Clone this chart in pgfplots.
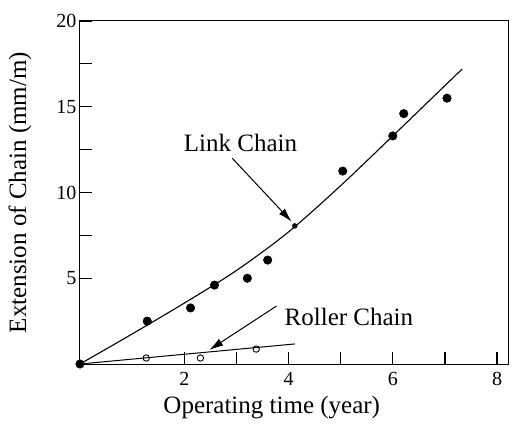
\documentclass[border=0pt]{standalone}
\usepackage{fontspec}
\setmainfont{Liberation Serif}
\usepackage{pgfplots}
\pgfplotsset{compat=1.18}
\usetikzlibrary{arrows.meta}
\begin{document}
\begin{tikzpicture}
\useasboundingbox (-80bp,-74bp) rectangle (439bp,364bp);
\begin{axis}[
 scale only axis, width=428bp, height=343bp,
 xmin=0, xmax=8.21, ymin=0, ymax=20,
 xtick={2,4,6,8}, ytick={5,10,15,20},
 minor x tick num=1, minor y tick num=1,
 tick align=inside, xtick pos=bottom, ytick pos=left,
 major tick length=12bp, minor tick length=12bp,
 axis line style={line width=1bp},
 tick style={black, line width=1.2bp},
 tick label style={font=\fontsize{20bp}{24bp}\selectfont},
 xticklabel style={yshift=-5bp},
 /pgf/number format/assume math mode=true,
 label style={font=\fontsize{25bp}{30bp}\selectfont},
 xlabel={Operating time (year)}, ylabel={Extension of Chain (mm/m)},
 xlabel style={at={(axis description cs:0.448,-0.128)}, anchor=center},
 ylabel style={at={(axis description cs:-0.140,0.5)}, anchor=center},
 clip=false,
]
% Link chain fitted curve
\addplot[smooth, tension=0.5, line width=1.1bp, black] coordinates {
 (0,0) (1,1.75) (2,3.55) (3,5.45) (4,7.7) (5,10.4) (6,13.3) (7.33,17.2)};
% Link chain measurements
\addplot[only marks, mark=*, mark size=4.3bp, black] coordinates {
 (0,0) (1.29,2.5) (2.12,3.27) (2.58,4.6) (3.21,5.0) (3.60,6.06)
 (5.04,11.25) (6.0,13.3) (6.21,14.6) (7.04,15.5)};
\addplot[only marks, mark=*, mark size=2.5bp, black] coordinates {(4.12,8.05)};
% Roller chain fitted line
\addplot[line width=1bp, black] coordinates {(0,0) (4.12,1.17)};
% Roller chain measurements
\addplot[only marks, mark=o, mark size=3.2bp, black, mark options={line width=0.9bp, fill=white}] coordinates {
 (1.27,0.35) (2.31,0.35) (3.38,0.87)};
% annotations
\draw[-{Latex[length=14bp,width=8bp]}, line width=1bp] (axis cs:2.92,12.0) -- (axis cs:4.06,8.3);
\node[font=\fontsize{25bp}{30bp}\selectfont] at (axis cs:3.08,12.9) {Link Chain};
\draw[-{Latex[length=14bp,width=8bp]}, line width=1bp] (axis cs:3.77,3.38) -- (axis cs:2.48,0.82);
\node[anchor=west, font=\fontsize{25bp}{30bp}\selectfont] at (axis cs:3.86,2.74) {Roller Chain};
\end{axis}
\end{tikzpicture}
\end{document}
